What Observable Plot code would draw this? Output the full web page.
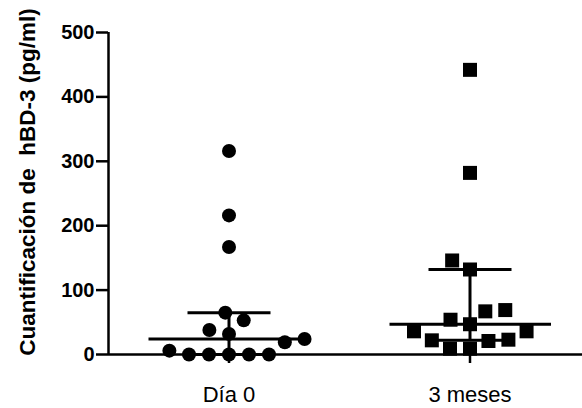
<!DOCTYPE html>
<html>
<head>
<meta charset="utf-8">
<script src="https://cdn.jsdelivr.net/npm/d3@7"></script>
<script src="https://cdn.jsdelivr.net/npm/@observablehq/plot@0.6"></script>
<style>
  html, body { margin: 0; padding: 0; background: #fff; }
  #chart svg { display: block; }
</style>
</head>
<body>
<div id="chart"></div>
<script>
// ---- data ----
const categories = ["Día 0", "3 meses"];
const dia0 = [0, 0, 0, 0, 0, 6, 19, 24, 32, 38, 53, 65, 167, 216, 316];
const meses3 = [9, 9, 21, 22, 23, 47, 54, 36, 36, 67, 69, 132, 146, 282, 442];
const medians = [24, 47];
const lowerQ = [0, 22];
const upperQ = [65, 132];
const yTicks = [0, 100, 200, 300, 400, 500];
const yTitle = "Cuantificación de  hBD-3 (pg/ml)";

// ---- tables built from the arrays ----
const pts0 = dia0.map(v => ({cat: categories[0], v}));
const pts1 = meses3.map(v => ({cat: categories[1], v}));
const stats = categories.map((cat, i) => ({cat, median: medians[i], q1: lowerQ[i], q3: upperQ[i]}));
const first = [{cat: categories[0], t: yTitle}];
const [yMin, yMax] = d3.extent(yTicks);

const font = "'Liberation Sans', Arial, sans-serif";

const chart = Plot.plot({
  width: 582,
  height: 408,
  marginLeft: 107,
  marginRight: -8,
  marginTop: 32,
  marginBottom: 54,
  style: {background: "#fff", fontFamily: font, color: "#000", overflow: "visible"},
  fx: {domain: categories, padding: 0, axis: null, label: null},
  x: {domain: [0, 1], axis: null},
  y: {domain: [yMin, yMax], axis: null},
  marks: [
    // axes lines
    Plot.ruleY([0], {stroke: "#000", strokeWidth: 2.5}),
    Plot.ruleX(first, {fx: "cat", x: () => 0, y1: yMin, y2: yMax, stroke: "#000", strokeWidth: 2.5}),
    Plot.axisY({ticks: yTicks, tickSize: 12, tickPadding: 2, strokeWidth: 2.5, fontSize: 20, fontWeight: "bold", fill: "#000", stroke: "#000", label: null}),
    Plot.axisFx({anchor: "bottom", tickSize: 9, tickPadding: 23, strokeWidth: 2.5, fontSize: 22, fill: "#000", stroke: "#000", label: null}),
    Plot.text(first, {fx: "cat", text: "t", frameAnchor: "left", textAnchor: "middle", rotate: -90, dx: -81, dy: -11.5, fontSize: 22.5, fontWeight: "bold", fill: "#000"}),
    // median and interquartile range
    Plot.ruleX(stats, {fx: "cat", x: null, y1: "q1", y2: "q3", stroke: "#000", strokeWidth: 3}),
    Plot.tickY(stats, {fx: "cat", y: "median", insetLeft: 40.5, insetRight: 39, stroke: "#000", strokeWidth: 3}),
    Plot.tickY(stats, {fx: "cat", y: "q3", insetLeft: 79.5, insetRight: 78.5, stroke: "#000", strokeWidth: 3}),
    Plot.tickY(stats, {fx: "cat", y: "q1", insetLeft: 79.5, insetRight: 78.5, stroke: "#000", strokeWidth: 3}),
    // points
    Plot.dot(pts0, Plot.dodgeX({anchor: "middle", padding: 6}, {fx: "cat", y: "v", r: 7, symbol: "circle", fill: "#000", stroke: "none"})),
    Plot.dot(pts1, Plot.dodgeX({anchor: "middle", padding: 4.2}, {fx: "cat", y: "v", r: 7.9, symbol: "square", fill: "#000", stroke: "none"}))
  ]
});

document.getElementById("chart").appendChild(chart);
</script>
</body>
</html>
